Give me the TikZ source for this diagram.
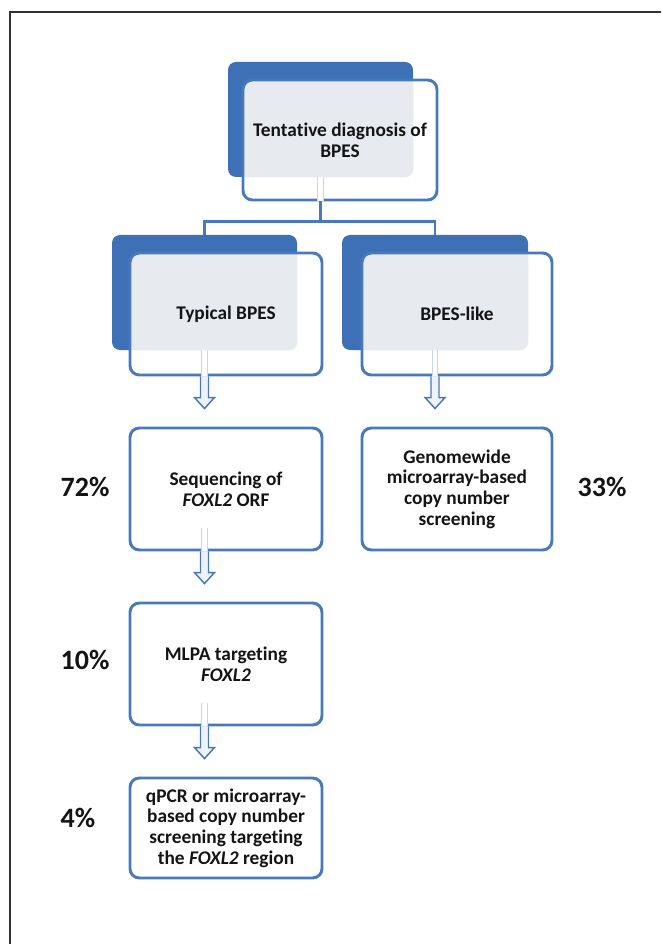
\documentclass[tikz,border=0pt]{standalone}
\usepackage{fontspec}
\setmainfont{Carlito}[Ligatures={NoCommon}]
\usetikzlibrary{calc}
\definecolor{backblue}{HTML}{3E70B5}
\definecolor{edgeblue}{HTML}{4779BB}
\definecolor{panel}{HTML}{E7EAEF}
\definecolor{arrowfill}{HTML}{EEF3FA}
\definecolor{framecol}{HTML}{333333}
\definecolor{txt}{HTML}{141414}
\newcommand\hollowdown[2]{%
  \path (#1) coordinate (hdA) (#2) coordinate (hdB);
  \draw[hollow] ($(hdA)+(-4,0)$) -- ($(hdB)+(-4,-11)$) -- ($(hdB)+(-10,-11)$) -- (hdB)
    -- ($(hdB)+(10,-11)$) -- ($(hdB)+(4,-11)$) -- ($(hdA)+(4,0)$);}
\begin{document}
\begin{tikzpicture}[x=0.75pt,y=-0.75pt,
  backbox/.style={fill=backblue, rounded corners=6pt, inner sep=0pt,
    minimum width=138.75pt, minimum height=86.25pt},
  frontbox/.style={draw=edgeblue, line width=2.2pt, fill=white, rounded corners=7pt,
    inner sep=0pt, align=center, text=txt, font=\bfseries\fontsize{14.5}{15.5}\selectfont,
    minimum width=144pt, minimum height=91.5pt},
  panelof/.style={path picture={\fill[panel, rounded corners=6pt]
    ($(path picture bounding box.north west)+(-5,-5)$) rectangle (#1.south east);}},
  pct/.style={anchor=west, text=txt, font=\bfseries\fontsize{21}{24}\selectfont},
  conn/.style={draw=edgeblue, line width=1.9pt},
  hollow/.style={draw=edgeblue, line width=1.1pt, fill=arrowfill, line join=miter},
  faint/.style={draw=edgeblue!30, line width=0.8pt, double=white, double distance=3.5pt}
]
\useasboundingbox (0,0) rectangle (661,944);
% frame
\draw[framecol, line width=1.4pt] (10,944) coordinate (fa) -- (10,12) coordinate (fb) -- (661,12) coordinate (fc);

% top
\node[backbox] (topb) at (320.5,119.5) {};
\node[frontbox, panelof=topb, minimum width=145.5pt, minimum height=90pt] (topf) at (340,140)
  {Tentative diagnosis of\\BPES};

% second level
\node[backbox] (typb) at (204.5,292.5) {};
\node[frontbox, panelof=typb] (typf) at (226,314) {Typical BPES};
\node[backbox, minimum width=139.5pt] (likeb) at (435,292.5) {};
\node[frontbox, panelof=likeb, minimum width=142.5pt] (likef) at (457,314) {BPES-like};

% lower boxes
\node[frontbox] (seq) at (226,489) {Sequencing of\\\textit{FOXL2} ORF};
\node[frontbox, minimum width=142.5pt] (gen) at (457,489)
  {Genomewide\\microarray-based\\copy number\\screening};
\node[frontbox] (mlpa) at (226,664) {MLPA targeting\\\textit{FOXL2}};
\node[frontbox, minimum height=75pt] (qpcr) at (226,828)
  {qPCR or microarray-\\based copy number\\screening targeting\\the \textit{FOXL2} region};

% percentages
\node[pct] (p72) at (56,487) {72\%};
\node[pct] (p10) at (56,660) {10\%};
\node[pct] (p4) at (56,818) {4\%};
\node[pct] (p33) at (573,487) {33\%};

% connectors from top box
\draw[faint] (topb.south) -- (topb.south |- topf.south);
\coordinate (bus) at ($(topb.south |- topf.south)+(0,20)$);
\draw[conn] (topb.south |- topf.south) -- (bus) -| (typb.north);
\draw[conn] (bus) -| (likeb.north);

% hollow arrows
\draw[faint] (typb.south) -- (typb.south |- typf.south);
\hollowdown{typb.south |- typf.south}{$(typb.south |- seq.north)+(0,-18)$}
\draw[faint] (likeb.south) -- (likeb.south |- likef.south);
\hollowdown{likeb.south |- likef.south}{$(likeb.south |- gen.north)+(0,-18)$}
\draw[faint] (typb.south |- 0,528) -- (typb.south |- seq.south);
\hollowdown{typb.south |- seq.south}{$(typb.south |- mlpa.north)+(0,-18)$}
\draw[faint] (typb.south |- 0,703) -- (typb.south |- mlpa.south);
\hollowdown{typb.south |- mlpa.south}{$(typb.south |- qpcr.north)+(0,-18)$}
\end{tikzpicture}
\end{document}
